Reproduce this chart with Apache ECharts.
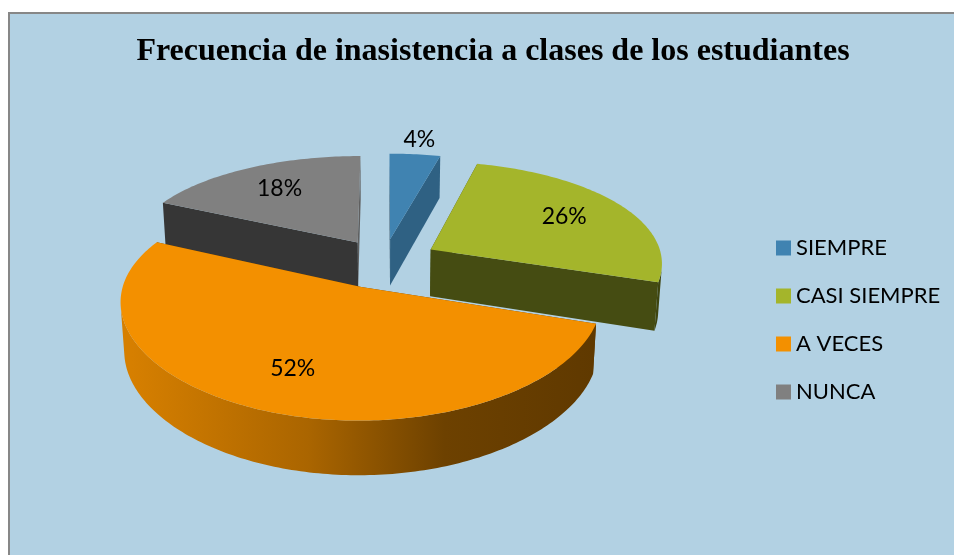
<!DOCTYPE html>
<html>
<head>
<meta charset="utf-8">
<script src="https://cdn.jsdelivr.net/npm/echarts@6/dist/echarts.min.js"></script>
<style>
  html, body { margin: 0; padding: 0; background: #fff; }
  #chart { width: 954px; height: 555px; }
</style>
</head>
<body>
<div id="chart"></div>
<script>
// datos del gráfico
const categories = ['SIEMPRE', 'CASI SIEMPRE', 'A VECES', 'NUNCA'];
const values = [4, 26, 52, 18];
const labels = ['4%', '26%', '52%', '18%'];
const colors = ['#4083b1', '#a4b52b', '#f39000', '#808080'];
const drawOrder = [0, 1, 3, 2]; // de atrás hacia delante

// vista 3D a ojo (estilo Excel)
const view = {
  cx: 384, cy: 261, r: 232, depth: 54, tilt: 26.8,
  perspX: 0.0005, perspY: 0.00065,
  explode: [50, 54, 60, 50]
};

const total = values.reduce((a, b) => a + b, 0);
const starts = [];
values.reduce((acc, v, i) => { starts[i] = acc; return acc + v; }, 0);

function project(x, z, y) {
  const t = view.tilt * Math.PI / 180;
  const sa = Math.sin(t), ca = Math.cos(t);
  const w = z * ca - y * sa;
  const sx = 1 / (1 + w * view.perspX / ca);
  const sy = 1 / (1 + w * view.perspY / ca);
  return [view.cx + x * sx, view.cy - (z * sa + y * ca) * sy];
}

function shade(hex, f) {
  const n = parseInt(hex.slice(1), 16);
  const r = Math.round(((n >> 16) & 255) * f);
  const g = Math.round(((n >> 8) & 255) * f);
  const b = Math.round((n & 255) * f);
  return 'rgb(' + r + ',' + g + ',' + b + ')';
}

function renderSlice(params, api) {
  const i = api.value(0);
  const v = api.value(1);
  const a0 = starts[i] / total * 2 * Math.PI;
  const a1 = (starts[i] + v) / total * 2 * Math.PI;
  const mid = (a0 + a1) / 2;
  const e = view.explode[i];
  const ox = e * Math.sin(mid), oz = e * Math.cos(mid);
  const R = view.r, H = -view.depth;
  const pt = (a, r, y) => project(ox + r * Math.sin(a), oz + r * Math.cos(a), y);
  const n = Math.max(2, Math.ceil((a1 - a0) / (Math.PI / 180)));
  const top = [], bot = [];
  for (let k = 0; k <= n; k++) {
    const a = a0 + (a1 - a0) * k / n;
    top.push(pt(a, R, 0));
    bot.push(pt(a, R, H));
  }
  const apexTop = pt(0, 0, 0), apexBot = pt(0, 0, H);
  const base = colors[i];
  const children = [];

  // caras radiales
  [[a0, -1], [a1, 1]].forEach(([a, dir]) => {
    const nx = dir * Math.cos(a);
    children.push({
      type: 'polygon',
      shape: { points: [apexTop, pt(a, R, 0), pt(a, R, H), apexBot] },
      style: { fill: shade(base, nx > 0.5 ? 0.74 : 0.42) }
    });
  });

  // lateral exterior, solo los tramos visibles
  const grad = {
    type: 'linear', global: true,
    x: view.cx - R - 20, y: 0, x2: view.cx + R + 20, y2: 0,
    colorStops: [
      { offset: 0, color: shade(base, 0.88) },
      { offset: 0.35, color: shade(base, 0.7) },
      { offset: 0.62, color: shade(base, 0.45) },
      { offset: 1, color: shade(base, 0.38) }
    ]
  };
  let run = null;
  const flush = () => {
    if (run && run.length > 1) {
      const pts = run.map(k => top[k]).concat(run.slice().reverse().map(k => bot[k]));
      children.push({ type: 'polygon', shape: { points: pts }, style: { fill: grad } });
    }
    run = null;
  };
  for (let k = 0; k < n; k++) {
    const dx1 = top[k + 1][0] - top[k][0], dy1 = top[k + 1][1] - top[k][1];
    const dx2 = bot[k][0] - top[k][0], dy2 = bot[k][1] - top[k][1];
    if (dx1 * dy2 - dy1 * dx2 < 0) {
      if (!run) run = [k];
      run.push(k + 1);
    } else {
      flush();
    }
  }
  flush();

  // cara superior
  children.push({
    type: 'polygon',
    shape: { points: [apexTop].concat(top) },
    style: { fill: base }
  });

  // etiqueta
  const f = v / total < 0.05 ? 1.2 : 0.7;
  const lp = pt(mid, f * R, 0);
  children.push({
    type: 'text', x: lp[0], y: lp[1], z2: 10,
    style: { text: labels[i], font: '23px Lato', fill: '#000', align: 'center', verticalAlign: 'middle' }
  });

  return { type: 'group', children };
}

const chart = echarts.init(document.getElementById('chart'));
chart.setOption({
  animation: false,
  title: {
    text: 'Frecuencia de inasistencia a clases de los estudiantes',
    left: 488, top: 31, textAlign: 'center',
    textStyle: { fontFamily: 'Liberation Serif', fontWeight: 'bold', fontSize: 32, color: '#000' }
  },
  legend: {
    data: categories,
    orient: 'vertical', left: 771, top: 232,
    itemWidth: 15, itemHeight: 15, itemGap: 26, icon: 'rect',
    textStyle: { fontFamily: 'Lato', fontSize: 22, lineHeight: 22, color: '#000' }
  },
  graphic: [{
    type: 'rect', z: -10,
    shape: { x: 9, y: 13, width: 960, height: 560 },
    style: { fill: '#b2d1e3', stroke: '#878787', lineWidth: 2 }
  }],
  series: drawOrder.map(i => ({
    type: 'custom',
    name: categories[i],
    coordinateSystem: 'none',
    silent: true,
    itemStyle: { color: colors[i] },
    renderItem: renderSlice,
    data: [[i, values[i]]]
  }))
});
</script>
</body>
</html>
